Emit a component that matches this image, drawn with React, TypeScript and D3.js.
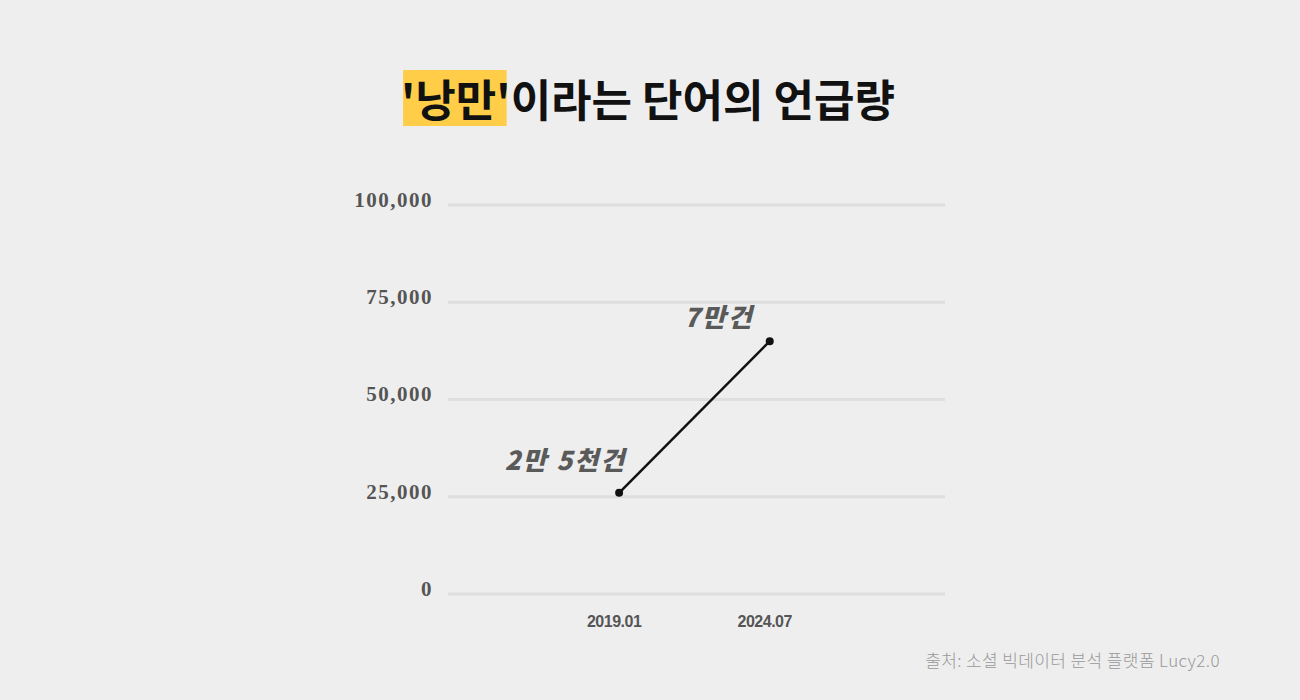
import React, { useLayoutEffect, useRef, useState } from "react";
import * as d3 from "d3";

const categories = ["2019.01", "2024.07"];
const values = [26000, 65000];
const pointLabels = ["2만 5천건", "7만건"];
const yTicks = [0, 25000, 50000, 75000, 100000];
const titleHighlight = "'낭만'";
const titleRest = "이라는 단어의 언급량";
const sourceText = "출처: 소셜 빅데이터 분석 플랫폼 Lucy2.0";

const W = 1300;
const H = 700;
const margin = { left: 448, right: 355, top: 205, bottom: 106 };

export default function App() {
  const hlRef = useRef<SVGTSpanElement>(null);
  const [box, setBox] = useState<{ x: number; w: number } | null>(null);

  useLayoutEffect(() => {
    document.body.style.margin = "0";
    document.body.style.background = "#eeeeee";
    if (hlRef.current) {
      const b = (hlRef.current as any).getBBox
        ? hlRef.current.getBBox()
        : null;
      if (b) setBox({ x: b.x, w: b.width });
    }
  }, []);

  const x = d3
    .scalePoint<string>()
    .domain(categories)
    .range([margin.left, W - margin.right])
    .padding(1.15)
    .align(0.494);
  const y = d3
    .scaleLinear()
    .domain([0, 100000])
    .range([H - margin.bottom, margin.top]);

  const line = d3
    .line<number>()
    .x((_, i) => x(categories[i]) as number)
    .y((d) => y(d));

  const fmt = d3.format(",");
  const labelOffsets = [
    { dx: 7, dy: -23 },
    { dx: -16, dy: -14 },
  ];

  return (
    <svg
      width={W}
      height={H}
      style={{ display: "block", background: "#eeeeee" }}
    >
      {/* title */}
      {box && (
        <rect x={box.x + 2} y={70} width={box.w - 6} height={56} fill="#ffcd48" />
      )}
      <text
        x={648}
        y={117}
        textAnchor="middle"
        fontFamily="'Noto Sans CJK KR', sans-serif"
        fontWeight={700}
        fontSize={44}
        fill="#111"
        letterSpacing={0}
      >
        <tspan ref={hlRef}>{titleHighlight}</tspan>
        <tspan>{titleRest}</tspan>
      </text>

      {/* gridlines */}
      {yTicks.map((t) => (
        <g key={t}>
          <line
            x1={margin.left}
            x2={W - margin.right}
            y1={y(t)}
            y2={y(t)}
            stroke="#dedede"
            strokeWidth={3}
          />
          <text
            x={433}
            y={y(t) - 3}
            textAnchor="end"
            dominantBaseline="middle"
            fontFamily="'Liberation Serif', serif"
            fontWeight={700}
            fontSize={21}
            letterSpacing={1.5}
            fill="#555"
          >
            {fmt(t)}
          </text>
        </g>
      ))}

      {/* x labels */}
      {categories.map((c) => (
        <text
          key={c}
          x={(x(c) as number) - 5}
          y={627}
          textAnchor="middle"
          fontFamily="'Liberation Sans', sans-serif"
          fontWeight={700}
          fontSize={16}
          letterSpacing={-0.5}
          fill="#555"
        >
          {c}
        </text>
      ))}

      {/* line */}
      <path d={line(values) || ""} fill="none" stroke="#111" strokeWidth={2.5} />
      {values.map((v, i) => (
        <circle key={i} cx={x(categories[i])} cy={y(v)} r={4} fill="#111" />
      ))}

      {/* annotations */}
      {values.map((v, i) => (
        <text
          key={"l" + i}
          x={(x(categories[i]) as number) + labelOffsets[i].dx}
          y={y(v) + labelOffsets[i].dy}
          textAnchor="end"
          fontFamily="'Noto Sans CJK KR', sans-serif"
          fontWeight={900}
          fontStyle="italic"
          fontSize={26}
          letterSpacing={2}
          fill="#5a5a5a"
        >
          {pointLabels[i]}
        </text>
      ))}

      {/* source */}
      <text
        x={1220}
        y={667}
        textAnchor="end"
        fontFamily="'Noto Sans CJK KR', sans-serif"
        fontWeight={300}
        fontSize={17}
        letterSpacing={0.4}
        fill="#999"
      >
        {sourceText}
      </text>
    </svg>
  );
}
